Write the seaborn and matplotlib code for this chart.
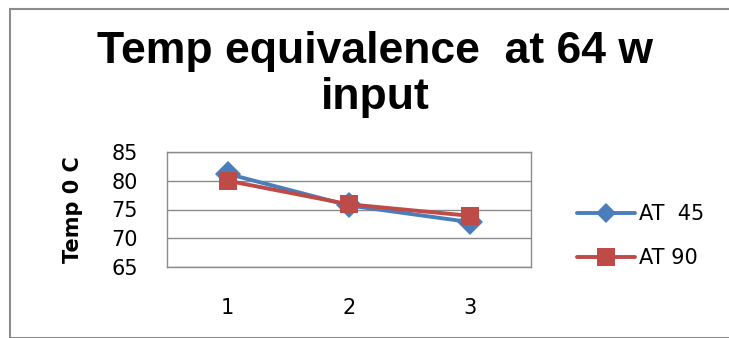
import numpy as np
import pandas as pd
import matplotlib
matplotlib.use('Agg')
import matplotlib.pyplot as plt
import seaborn as sns
from matplotlib.patches import Rectangle
from matplotlib.lines import Line2D

# Data
positions = [1, 2, 3]
at45 = [81.2, 75.7, 72.8]
at90 = [80.0, 75.9, 73.9]
series_names = ['AT  45', 'AT 90']

df = pd.DataFrame({
    'pos': positions * 2,
    'temp': at45 + at90,
    'series': [series_names[0]] * 3 + [series_names[1]] * 3,
})

sns.set_theme(style='white')
plt.rcParams['font.family'] = ['DejaVu Sans']
plt.rcParams['text.color'] = 'black'

fig = plt.figure(figsize=(7.29, 3.38), dpi=100)
ax = fig.add_axes([167 / 729, 1 - 267 / 338, 364 / 729, 115 / 338])

# outer chart border
fig.patches.append(Rectangle((10 / 729, 0), 1.0, 1 - 9 / 338, transform=fig.transFigure,
                             fill=False, edgecolor='#8c8c8c', linewidth=1.5))

sns.lineplot(data=df, x='pos', y='temp', hue='series', style='series',
             palette=['#4A7EBB', '#BE4B48'], markers=['D', 's'], dashes=False,
             markersize=13, linewidth=2.8, markeredgewidth=0, ax=ax, legend=False)

ax.set_xlim(0.5, 3.5)
ax.set_ylim(65, 85)
ax.set_yticks([65, 70, 75, 80, 85])
ax.set_xticks(positions)
ax.grid(axis='y', color='#8c8c8c', linewidth=1)
ax.set_axisbelow(True)
for s in ax.spines.values():
    s.set_color('#8c8c8c')
    s.set_linewidth(1)
ax.tick_params(axis='both', length=0, labelsize=15, colors='black')
ax.tick_params(axis='x', pad=22)
ax.tick_params(axis='y', pad=21)
ax.set_xlabel('')
ax.set_ylabel('Temp 0 C', fontsize=15, fontweight='bold', labelpad=20, color='black')

title_font = ['Liberation Sans Narrow', 'Liberation Sans']
fig.text(375 / 729, 1 - 51 / 338, 'Temp equivalence  at 64 w', ha='center', va='center',
         fontsize=32, fontweight='bold', family=title_font, color='black')
fig.text(375 / 729, 1 - 98 / 338, 'input', ha='center', va='center',
         fontsize=32, fontweight='bold', family=title_font, color='black')

handles = [Line2D([], [], color='#4A7EBB', marker='D', markersize=10, linewidth=2.8, markeredgewidth=0),
           Line2D([], [], color='#BE4B48', marker='s', markersize=13, linewidth=2.8, markeredgewidth=0)]
fig.legend(handles, series_names, loc='center left', bbox_to_anchor=(558 / 729, 1 - 236 / 338),
           frameon=False, fontsize=15, handlelength=2.8, handletextpad=0.2, labelspacing=1.15)

fig.savefig('out.png', dpi=100, facecolor='white')
